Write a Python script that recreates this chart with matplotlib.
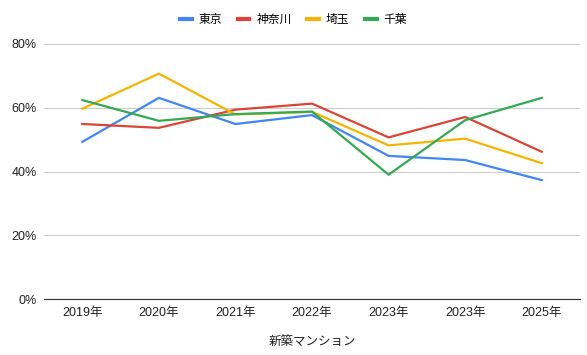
import matplotlib.pyplot as plt
from matplotlib.ticker import PercentFormatter

plt.rcParams['font.family'] = ['Liberation Sans', 'Noto Sans CJK JP', 'DejaVu Sans']

years = ['2019年', '2020年', '2021年', '2022年', '2023年', '2023年', '2025年']
tokyo = [0.493, 0.631, 0.549, 0.577, 0.449, 0.436, 0.373]
kanagawa = [0.549, 0.537, 0.594, 0.613, 0.507, 0.571, 0.462]
saitama = [0.597, 0.707, 0.579, 0.587, 0.482, 0.503, 0.426]
chiba = [0.624, 0.559, 0.580, 0.588, 0.390, 0.561, 0.631]

series = [('東京', tokyo, '#4285F4'),
          ('神奈川', kanagawa, '#DB4437'),
          ('埼玉', saitama, '#F4B400'),
          ('千葉', chiba, '#34A853')]

fig = plt.figure(figsize=(5.87, 3.55), dpi=100)
ax = fig.add_axes([44 / 587, 1 - 299 / 355, 536 / 587, 255 / 355])

x = range(len(years))
for name, vals, col in series:
    ax.plot(x, vals, color=col, lw=1.6, label=name)

ax.set_xlim(-0.5, len(years) - 0.5)
ax.set_ylim(0, 0.8)
ax.set_yticks([0, 0.2, 0.4, 0.6, 0.8])
ax.yaxis.set_major_formatter(PercentFormatter(1.0, decimals=0))
ax.set_xticks(list(x))
ax.set_xticklabels(years)
ax.grid(axis='y', color='#cccccc', lw=0.8)
ax.set_axisbelow(True)
for s in ['top', 'right', 'left']:
    ax.spines[s].set_visible(False)
ax.spines['bottom'].set_color('#333333')
ax.tick_params(length=0, labelsize=9, colors='#222222')
ax.tick_params(axis='y', pad=5)
ax.tick_params(axis='x', pad=6)
ax.set_xlabel('新築マンション', fontsize=9, color='#222222', labelpad=12)

fig.legend(loc='upper center', bbox_to_anchor=(0.5, 0.99), ncol=4, frameon=False,
           fontsize=8.5, handlelength=1.0, handletextpad=0.6, columnspacing=1.3)
for line in fig.legends[0].get_lines():
    line.set_linewidth(3)

fig.savefig('out.png', dpi=100)
